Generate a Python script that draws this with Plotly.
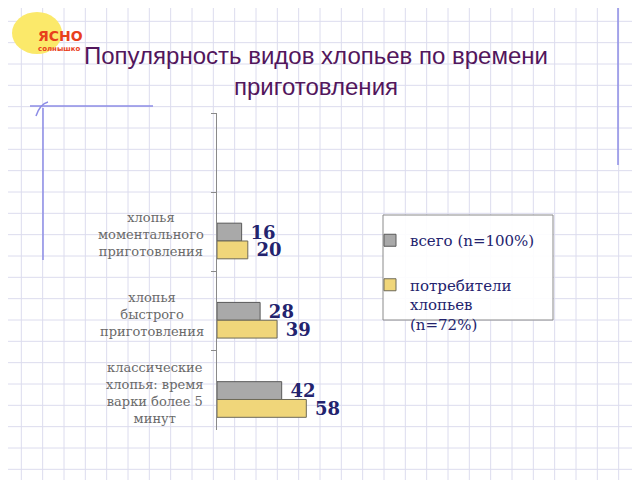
import plotly.graph_objects as go

# ---- data ----
categories = [" ",
              "хлопья<br>моментального<br>приготовления",
              "хлопья<br>быстрого<br>приготовления",
              "классические<br>хлопья: время<br>варки более 5<br>минут"]
series_names = ["всего (n=100%)", "потребители<br>хлопьев<br>(n=72%)"]
values_total = [None, 16, 28, 42]
values_consumers = [None, 20, 39, 58]
title_text = "Популярность видов хлопьев по времени<br>приготовления"

# the page body has an 8px margin; figure is placed at (8, 8)
OFF = 8
W, H = 632, 472
def px(x):
    return (x - OFF) / W
def py(y):
    return 1 - (y - OFF) / H

fig = go.Figure()

val_font = dict(family="DejaVu Serif", size=18, color="#23236e")
fig.add_trace(go.Bar(
    y=categories, x=values_total, orientation="h", name=series_names[0],
    marker=dict(color="#a9a9a9", line=dict(color="#5a5a5a", width=1)),
    offset=-0.11, width=0.225,
    text=values_total, texttemplate="&nbsp;<b>%{x}</b>", textposition="outside",
    textfont=val_font, constraintext="none", cliponaxis=False,
    legendgroup="a",
))
fig.add_trace(go.Bar(
    y=categories, x=values_consumers, orientation="h", name=series_names[1],
    marker=dict(color="#f0d67a", line=dict(color="#6e6a58", width=1)),
    offset=0.115, width=0.225,
    text=values_consumers, texttemplate="&nbsp;<b>%{x}</b>", textposition="outside",
    textfont=val_font, constraintext="none", cliponaxis=False,
    legendgroup="b",
))

shapes = []
grid_col = "#dcdcee"
step = 640 / 30
k = 1
while k * step < 640:
    shapes.append(dict(type="line", xref="paper", yref="paper", x0=px(k*step), x1=px(k*step),
                       y0=0, y1=1, line=dict(color=grid_col, width=1), layer="below"))
    k += 1
k = 1
while k * step < 480:
    shapes.append(dict(type="line", xref="paper", yref="paper", x0=0, x1=1,
                       y0=py(k*step), y1=py(k*step), line=dict(color=grid_col, width=1), layer="below"))
    k += 1

deco = "#8c8ce6"
shapes += [
    dict(type="line", xref="paper", yref="paper", x0=px(30), x1=px(153), y0=py(106), y1=py(106),
         line=dict(color=deco, width=1.5), layer="below"),
    dict(type="line", xref="paper", yref="paper", x0=px(43), x1=px(43), y0=py(108), y1=py(260),
         line=dict(color=deco, width=1.5), layer="below"),
    dict(type="path", xref="paper", yref="paper",
         path=f"M {px(36)} {py(116)} Q {px(40)} {py(104)} {px(48)} {py(102)}",
         line=dict(color=deco, width=1.5), layer="below"),
    dict(type="line", xref="paper", yref="paper", x0=px(618), x1=px(618), y0=py(8), y1=py(165),
         line=dict(color=deco, width=1.5), layer="below"),
    # legend box
    dict(type="rect", xref="paper", yref="paper", x0=px(383), x1=px(553), y0=py(215), y1=py(320),
         line=dict(color="#8a8a8a", width=1), fillcolor="rgba(255,255,255,0.9)", layer="below"),
    # logo sun
    dict(type="circle", xref="paper", yref="paper", x0=px(12), x1=px(62), y0=py(12), y1=py(54),
         line=dict(color="#f8e060", width=0), fillcolor="#fbe96a", layer="below"),
]

annotations = []
lab_font = dict(family="DejaVu Serif", size=13, color="#6a6a6a")
for c in categories[1:]:
    annotations.append(dict(xref="paper", yref="y", x=px(206), y=c, text=c, showarrow=False,
                            xanchor="right", yanchor="middle", align="center", font=lab_font, yshift=-3))
annotations.append(dict(xref="paper", yref="paper", x=px(36), y=py(26), text="<b>ЯСНО</b>",
                        showarrow=False, font=dict(family="DejaVu Sans", size=14, color="#e8401c")))
annotations.append(dict(xref="paper", yref="paper", x=px(36), y=py(43), text="<b>солнышко</b>",
                        showarrow=False, font=dict(family="DejaVu Sans", size=7, color="#e8401c")))

fig.update_layout(
    width=W, height=H,
    margin=dict(l=0, r=0, t=0, b=0),
    paper_bgcolor="white", plot_bgcolor="rgba(0,0,0,0)",
    barmode="overlay",
    title=dict(text=title_text, x=px(316), xanchor="center", y=py(64), yanchor="middle",
               font=dict(family="Liberation Sans", size=24, color="#52165c")),
    xaxis=dict(domain=[px(217), px(512)], range=[0, 295 / 1.54], visible=False),
    yaxis=dict(domain=[py(430), py(113)], type="category",
               categoryorder="array", categoryarray=categories, range=[3.5, -0.5],
               showline=True, linecolor="#8a8a8a", linewidth=1,
               ticks="outside", tickson="boundaries", ticklen=5, tickcolor="#8a8a8a",
               showticklabels=False, showgrid=False, zeroline=False),
    showlegend=True,
    legend=dict(x=px(370), y=py(224), xanchor="left", yanchor="top",
                bgcolor="rgba(0,0,0,0)", borderwidth=0, tracegroupgap=22, valign="top",
                font=dict(family="DejaVu Serif", size=15, color="#23236e")),
    shapes=shapes, annotations=annotations,
)

fig.write_html("out.html")
